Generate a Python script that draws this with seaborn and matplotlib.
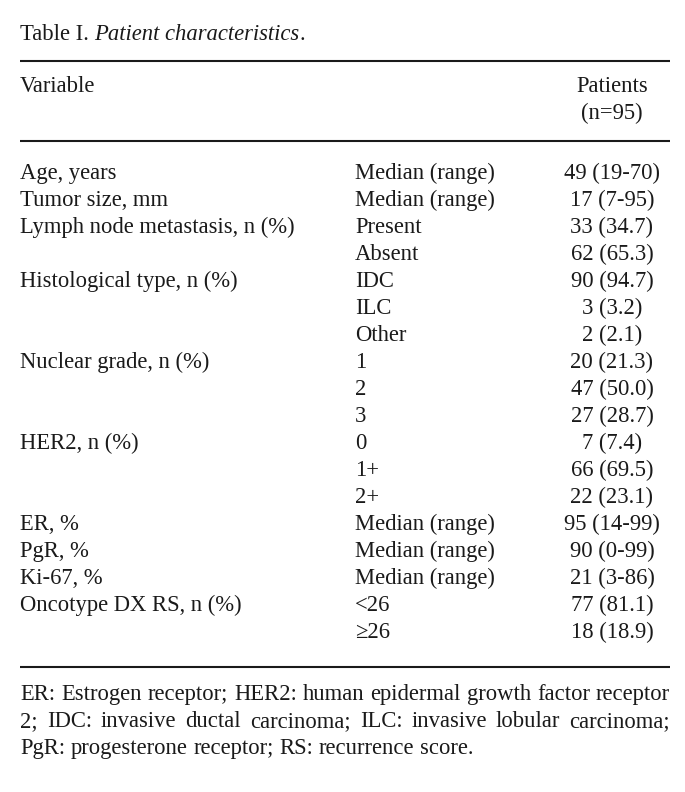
"""Table I. Patient characteristics, redrawn as a text table on a blank axes."""

import matplotlib.pyplot as plt
import seaborn as sns

# === Tablo içeriği ===
TITLE_PLAIN = "Table I. "
TITLE_ITALIC = "Patient characteristics"
TITLE_END = "."

HEADER_VARIABLE = "Variable"
HEADER_PATIENTS = ["Patients", "(n=95)"]

VARIABLES = [
    "Age, years", "Tumor size, mm", "Lymph node metastasis, n (%)", "",
    "Histological type, n (%)", "", "", "Nuclear grade, n (%)", "", "",
    "HER2, n (%)", "", "", "ER, %", "PgR, %", "Ki-67, %",
    "Oncotype DX RS, n (%)", "",
]
CATEGORIES = [
    "Median (range)", "Median (range)", "Present", "Absent",
    "IDC", "ILC", "Other", "1", "2", "3",
    "0", "1+", "2+", "Median (range)", "Median (range)", "Median (range)",
    "<26", "≥26",
]
VALUES = [
    "49 (19-70)", "17 (7-95)", "33 (34.7)", "62 (65.3)",
    "90 (94.7)", "3 (3.2)", "2 (2.1)", "20 (21.3)", "47 (50.0)", "27 (28.7)",
    "7 (7.4)", "66 (69.5)", "22 (23.1)", "95 (14-99)", "90 (0-99)", "21 (3-86)",
    "77 (81.1)", "18 (18.9)",
]
FOOTNOTE = [
    "ER: Estrogen receptor; HER2: human epidermal growth factor receptor",
    "2; IDC: invasive ductal carcinoma; ILC: invasive lobular carcinoma;",
    "PgR: progesterone receptor; RS: recurrence score.",
]

sns.set_theme(style="white")
plt.rcParams["font.family"] = ["Liberation Serif", "DejaVu Serif"]

FS = 16.3
INK = "#1a1a1a"
LEFT, RIGHT = 20, 670
COL2, COL3 = 355, 612

fig = plt.figure(figsize=(6.85, 7.92), dpi=100)
ax = fig.add_axes([0, 0, 1, 1])
ax.set_xlim(0, 685)
ax.set_ylim(792, 0)
ax.axis("off")
renderer = fig.canvas.get_renderer()


def width(t):
    return t.get_window_extent(renderer).width


# başlık: düz + italik + nokta, yan yana ölçülerek
x = LEFT
for part, style in [(TITLE_PLAIN, "normal"), (TITLE_ITALIC, "italic"), (TITLE_END, "normal")]:
    t = ax.text(x, 40, part, fontsize=FS, style=style, color=INK, va="baseline")
    x += width(t)

for y in (61, 141, 667):
    ax.plot([LEFT, RIGHT], [y, y], color=INK, lw=1.5, solid_capstyle="butt")

ax.text(LEFT, 92, HEADER_VARIABLE, fontsize=FS, color=INK, va="baseline")
for i, line in enumerate(HEADER_PATIENTS):
    ax.text(COL3, 92 + 27 * i, line, fontsize=FS, color=INK, va="baseline", ha="center")

for i, (var, cat, val) in enumerate(zip(VARIABLES, CATEGORIES, VALUES)):
    y = 179 + 27.0 * i
    ax.text(LEFT, y, var, fontsize=FS, color=INK, va="baseline")
    ax.text(COL2, y, cat, fontsize=FS, color=INK, va="baseline")
    ax.text(COL3, y, val, fontsize=FS, color=INK, va="baseline", ha="center")

# dipnot: ilk iki satır iki yana yaslı
for i, line in enumerate(FOOTNOTE):
    y = 700 + 27 * i
    words = line.split(" ")
    texts = [ax.text(0, y, w, fontsize=FS, color=INK, va="baseline") for w in words]
    widths = [width(t) for t in texts]
    if i < len(FOOTNOTE) - 1:
        gap = (RIGHT - LEFT - sum(widths)) / (len(words) - 1)
    else:
        gap = width(ax.text(0, y, " ", fontsize=FS, alpha=0))
    x = LEFT
    for t, w in zip(texts, widths):
        t.set_x(x)
        x += w + gap

fig.savefig("out.png", dpi=100, facecolor="white")
